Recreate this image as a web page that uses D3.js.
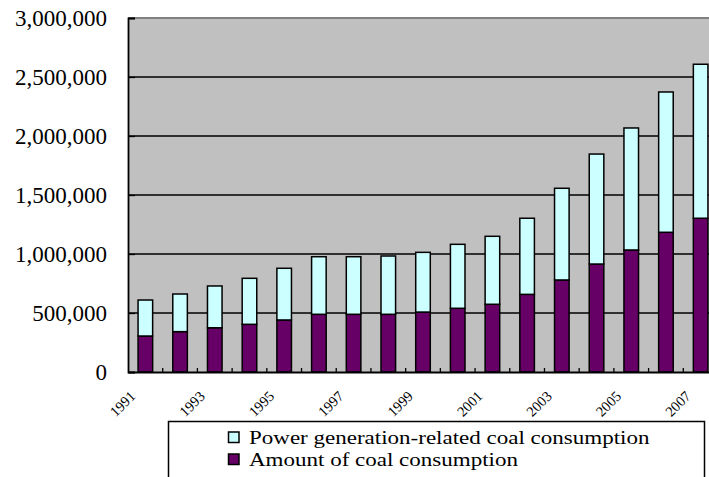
<!DOCTYPE html>
<html><head><meta charset="utf-8">
<script src="https://cdn.jsdelivr.net/npm/d3@7"></script>
<style>html,body{margin:0;padding:0;background:#fff;overflow:hidden}svg{display:block}</style>
</head><body>
<svg id="chart" width="709" height="477"></svg>
<script>
const years = ["1991","1992","1993","1994","1995","1996","1997","1998","1999","2000","2001","2002","2003","2004","2005","2006","2007"];
const amountCoal = [305000,342000,375000,404000,441000,489000,489000,489000,508000,540000,574000,658000,780000,915000,1034000,1184000,1303000];
const powerCoal = [305000,319000,354000,390000,438000,488000,488000,494000,506000,542000,576000,645000,777000,932000,1034000,1189000,1305000];
const yTicks = [0,500000,1000000,1500000,2000000,2500000,3000000];
const xTickLabels = ["1991","1993","1995","1997","1999","2001","2003","2005","2007"];
const legendLabels = ["Power generation-related coal consumption","Amount of coal consumption"];

const svg = d3.select("#chart");
const pL = 128, pR = 718, pT = 18, pB = 372;
const font = "'Liberation Serif','Times New Roman',serif";

const x = d3.scaleBand().domain(years).range([pL, pR]).paddingInner(0.58).paddingOuter(0.29);
const y = d3.scaleLinear().domain([0, 3000000]).range([pB, pT]);

const rows = years.map((yr, i) => ({year: yr, amount: amountCoal[i], power: powerCoal[i]}));
const stack = d3.stack().keys(["amount","power"])(rows);
const colors = {amount: "#660066", power: "#ccffff"};

// plot background
svg.append("rect").attr("x", pL).attr("y", pT).attr("width", pR - pL).attr("height", pB - pT).attr("fill", "#c0c0c0");
svg.append("line").attr("x1", pL).attr("x2", pR).attr("y1", pT).attr("y2", pT).attr("stroke", "#808080").attr("stroke-width", 2);

// gridlines
svg.append("g").selectAll("line").data(yTicks.filter(v => v > 0 && v < 3000000)).join("line")
  .attr("x1", pL).attr("x2", pR).attr("y1", d => y(d)).attr("y2", d => y(d))
  .attr("stroke", "#000").attr("stroke-width", 1.3);

// bars
svg.append("g").selectAll("g").data(stack).join("g")
  .attr("fill", d => colors[d.key])
  .selectAll("rect").data(d => d).join("rect")
  .attr("x", d => x(d.data.year)).attr("width", x.bandwidth())
  .attr("y", d => y(d[1])).attr("height", d => y(d[0]) - y(d[1]))
  .attr("stroke", "#000").attr("stroke-width", 1.5);

// y axis
const yAxis = d3.axisLeft(y).tickValues(yTicks).tickSize(-7).tickPadding(21).tickFormat(d3.format(","));
const yg = svg.append("g").attr("transform", `translate(${pL},0)`).call(yAxis);
yg.select(".domain").attr("stroke", "#000").attr("stroke-width", 1.8);
yg.selectAll(".tick line").attr("stroke", "#000").attr("stroke-width", 1.3);
yg.selectAll(".tick text").attr("font-family", font).attr("font-size", 23).attr("fill", "#000").attr("dy", "0.34em");

// x axis
const xAxis = d3.axisBottom(x).tickSizeInner(0).tickSizeOuter(0).tickFormat("");
const xg = svg.append("g").attr("transform", `translate(0,${pB})`).call(xAxis);
xg.select(".domain").attr("stroke", "#000").attr("stroke-width", 1.8);
xg.selectAll(".tick").remove();
const gap = (x.step() - x.bandwidth()) / 2;
svg.append("g").selectAll("line").data(years.slice(1)).join("line")
  .attr("x1", d => x(d) - gap).attr("x2", d => x(d) - gap)
  .attr("y1", pB).attr("y2", pB - 4)
  .attr("stroke", "#000").attr("stroke-width", 1.3);
svg.append("g").selectAll("text").data(xTickLabels).join("text")
  .attr("transform", d => `translate(${x(d) + x.bandwidth() / 2 - 9},${397}) rotate(-45)`)
  .attr("text-anchor", "end")
  .attr("font-family", font).attr("font-size", 14.5).attr("fill", "#000")
  .text(d => d);

// legend
const lg = svg.append("g");
lg.append("rect").attr("x", 168.5).attr("y", 421.5).attr("width", 536).attr("height", 80)
  .attr("fill", "#fff").attr("stroke", "#000").attr("stroke-width", 1.5);
const legendKeys = ["power","amount"];
const items = lg.selectAll("g").data(legendLabels).join("g")
  .attr("transform", (d, i) => `translate(0,${i * 22})`);
items.append("rect").attr("x", 228.5).attr("y", 432).attr("width", 10.5).attr("height", 10.5)
  .attr("fill", (d, i) => colors[legendKeys[i]]).attr("stroke", "#000").attr("stroke-width", 1.5);
items.append("text").attr("x", 249).attr("y", 443.5)
  .attr("font-family", font).attr("font-size", 19.5).attr("fill", "#000")
  .text(d => d)
  .each(function() {
    // reference text is horizontally wider than its height suggests: stretch to 23px-equivalent width
    const w = this.getComputedTextLength();
    d3.select(this).attr("textLength", w * 23 / 19.5).attr("lengthAdjust", "spacingAndGlyphs");
  });
</script>
</body></html>
